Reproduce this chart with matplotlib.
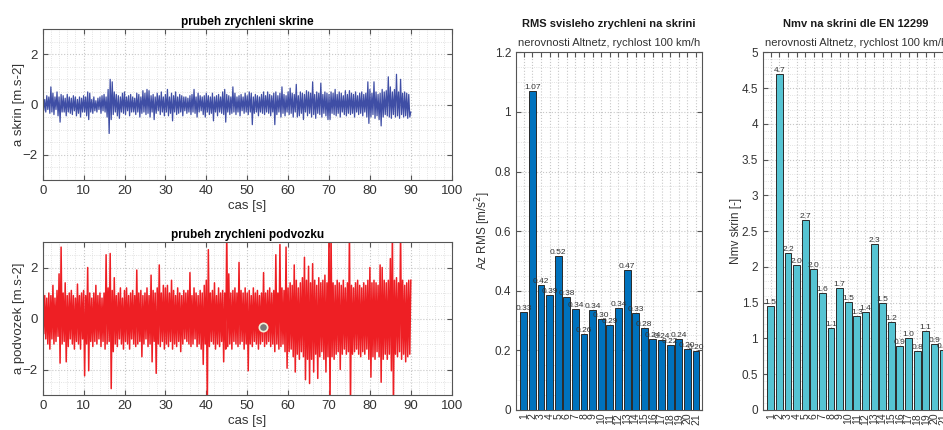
import numpy as np
import matplotlib
matplotlib.use("Agg")
import matplotlib.pyplot as plt
from matplotlib.ticker import MultipleLocator, FormatStrFormatter

plt.rcParams['font.family'] = ['Liberation Sans', 'DejaVu Sans']

# time axis of the two recordings (sampled every 0.25 s, 0..90 s)
cas = np.arange(0, 90.001, 0.25)

# body (skrin) acceleration, peaks [m/s2]
a_skrin = [
    0.15, -0.25, 0.2, -0.3, 0.35, -0.2, 0.3, -0.35, 0.7, -0.3, 0.45, -0.4, 0.3, -0.2, 0.5, -0.45, 0.3, -0.7, 0.4, -0.3,
    0.35, -0.3, 0.25, -0.45, 0.4, -0.3, 0.3, -0.35, 0.25, -0.4, 0.35, -0.25, 0.3, -0.45, 0.2, -0.35, 0.3, -0.5, 0.25, -0.3,
    0.35, -0.3, 0.3, -0.45, 0.5, -0.6, 0.45, -0.3, 0.2, -0.35, 0.3, -0.25, 0.15, -0.3, 0.25, -0.2, 0.3, -0.35, 0.35, -0.25,
    0.4, -0.3, 0.3, -0.5, 0.6, -1.15, 1.0, -0.6, 0.9, -0.4, 0.5, -0.3, 0.4, -0.45, 0.35, -0.55, 0.3, -0.3, 0.45, -0.35,
    0.5, -0.4, 0.3, -0.25, 0.35, -0.45, 0.4, -0.3, 0.3, -0.3, 0.25, -0.4, 0.45, -0.3, 0.4, -0.5, 0.3, -0.35, 0.55, -0.3,
    0.45, -0.4, 0.6, -0.35, 0.55, -0.5, 0.35, -0.3, 0.4, -0.6, 0.3, -0.35, 0.45, -0.25, 0.35, -0.4, 0.5, -0.3, 0.3, -0.45,
    0.4, -0.3, 0.6, -0.45, 0.3, -0.35, 0.45, -0.65, 0.35, -0.3, 0.5, -0.4, 0.3, -0.35, 0.4, -0.3, 0.35, -0.45, 0.3, -0.25,
    0.3, -0.35, 0.25, -0.3, 0.35, -0.4, 0.4, -0.3, 0.6, -0.35, 0.3, -0.5, 0.45, -0.3, 0.35, -0.25, 0.3, -0.4, 0.35, -0.5,
    0.45, -0.3, 0.35, -0.4, 0.3, -0.35, 0.45, -0.65, 0.3, -0.3, 0.35, -0.45, 0.4, -0.3, 0.3, -0.35, 0.5, -0.4, 0.6, -0.7,
    0.4, -0.3, 0.35, -0.4, 0.3, -0.35, 0.7, -0.3, 0.45, -0.4, 0.3, -0.3, 0.35, -0.45, 0.4, -0.25, 0.3, -0.35, 0.45, -0.3,
    0.35, -0.4, 0.5, -0.3, 0.45, -0.8, 0.3, -0.35, 0.4, -0.3, 0.35, -0.45, 0.3, -0.3, 0.4, -0.35, 0.5, -0.4, 0.35, -0.3,
    0.5, -0.35, 0.4, -0.45, 0.35, -0.3, 0.45, -0.8, 0.5, -0.4, 0.35, -0.3, 0.45, -0.5, 0.7, -0.35, 0.4, -0.45, 0.35, -0.3,
    0.5, -0.4, 0.65, -0.35, 0.45, -0.5, 0.4, -0.3, 0.8, -0.5, 0.35, -0.45, 0.5, -0.35, 0.45, -0.6, 0.4, -0.3, 0.55, -0.45,
    0.5, -0.35, 0.45, -0.5, 0.9, -0.4, 0.4, -0.55, 0.5, -0.35, 0.45, -0.4, 0.85, -0.5, 0.4, -0.35, 0.5, -0.45, 0.45, -0.6,
    0.4, -0.6, 0.5, -0.35, 0.45, -0.4, 0.6, -0.45, 0.4, -0.35, 0.5, -0.5, 0.45, -0.3, 0.35, -0.4, 0.55, -0.45, 0.4, -0.35,
    0.55, -0.4, 0.45, -0.35, 0.4, -0.5, 0.5, -0.3, 0.35, -0.4, 0.45, -0.35, 0.5, -0.45, 0.4, -0.3, 0.45, -0.5, 0.9, -0.75,
    0.6, -0.5, 0.45, -0.4, 0.9, -0.55, 0.5, -0.45, 0.4, -0.6, 0.45, -0.85, 0.6, -0.5, 0.5, -0.4, 0.55, -0.45, 1.1, -0.5,
    0.7, -0.55, 0.5, -0.4, 0.6, -0.5, 1.2, -0.45, 0.5, -0.55, 1.0, -0.4, 0.45, -0.5, 0.5, -0.45, 0.45, -0.55, 0.4, -0.5,
    -0.3]

# bogie (podvozek) acceleration [m/s2]
a_podvozek = [
    0.7, -0.6, 0.9, -0.8, 0.8, -1.0, 1.0, -1.2, 0.9, -0.8, 1.3, -1.0, 0.8, -0.9, 1.1, -0.7, 1.75, -1.75, 2.8, -1.0,
    1.0, -0.9, 1.4, -1.7, 0.9, -1.1, 1.0, -0.8, 1.1, -1.0, 0.9, -1.2, 0.8, -0.9, 1.35, -1.0, 0.9, -1.2, 1.0, -0.8,
    1.1, -2.25, 0.9, -1.0, 2.0, -2.05, 1.0, -0.9, 0.8, -1.1, 1.0, -0.9, 1.3, -1.0, 0.9, -0.8, 1.0, -1.1, 0.8, -0.9,
    1.0, -1.2, 2.5, -1.0, 1.2, -0.9, 2.55, -2.75, 1.1, -1.3, 1.6, -1.0, 0.9, -1.1, 1.0, -0.8, 1.2, -1.0, 0.8, -1.2,
    1.1, -0.9, 1.2, -1.0, 0.9, -1.2, 1.0, -0.8, 1.1, -1.0, 0.9, -1.1, 1.9, -1.0, 1.0, -0.9, 1.1, -1.5, 0.9, -1.0,
    1.0, -0.8, 1.2, -1.1, 0.9, -1.0, 1.7, -1.7, 1.1, -0.9, 1.0, -2.15, 1.2, -1.0, 2.1, -1.1, 1.0, -0.9, 1.3, -1.2,
    1.2, -1.0, 1.3, -1.1, 1.0, -0.9, 1.5, -1.2, 1.1, -1.0, 0.9, -1.1, 1.2, -0.9, 1.0, -1.3, 0.9, -1.0, 1.1, -0.8,
    1.0, -0.9, 1.1, -1.0, 1.8, -1.1, 0.9, -1.0, 1.2, -0.8, 1.0, -1.1, 0.9, -1.0, 1.1, -1.2, 1.0, -1.8, 1.3, -1.0,
    1.5, -3.5, 2.7, -1.1, 1.0, -0.9, 1.1, -1.0, 1.4, -1.2, 0.9, -1.0, 1.2, -1.1, 1.0, -0.9, 1.1, -1.7, 1.0, -1.2,
    3.5, -1.1, 1.75, -1.0, 1.0, -1.2, 1.1, -0.9, 1.2, -1.0, 1.0, -1.1, 2.2, -1.0, 1.1, -0.9, 1.0, -1.2, 1.2, -1.0,
    1.0, -2.05, 1.1, -1.0, 0.9, -1.1, 1.2, -0.9, 1.0, -1.0, 1.1, -1.2, 0.9, -1.0, 1.0, -0.9, 1.8, -1.1, 1.0, -1.0,
    1.1, -0.9, 1.2, -1.1, 1.0, -1.0, 1.1, -1.3, 2.5, -1.0, 1.0, -1.2, 2.9, -1.1, 1.2, -1.0, 1.1, -1.3, 2.8, -1.95,
    1.2, -1.3, 1.4, -1.2, 1.3, -1.5, 2.1, -2.1, 1.5, -1.4, 1.2, -1.6, 1.4, -1.3, 1.6, -1.5, 2.4, -2.4, 1.5, -1.6,
    2.05, -2.55, 1.4, -1.6, 2.15, -2.1, 1.5, -1.4, 1.3, -2.35, 1.6, -1.5, 1.4, -1.3, 1.5, -1.6, 1.7, -2.1, 1.4, -1.5,
    3.5, -3.5, 3.5, -1.5, 1.4, -1.6, 1.3, -1.4, 1.5, -1.3, 1.4, -2.0, 1.3, -1.4, 1.5, -1.2, 1.2, -1.4, 1.4, -1.3,
    3.5, -3.5, 1.3, -1.4, 1.2, -1.3, 1.4, -1.2, 1.5, -1.4, 1.3, -1.5, 1.2, -1.3, 1.4, -1.4, 1.3, -1.2, 1.5, -1.6,
    2.0, -2.3, 1.4, -1.5, 1.5, -1.6, 1.4, -1.3, 1.3, -1.5, 2.1, -2.5, 2.0, -1.6, 1.5, -1.4, 1.4, -1.6, 1.5, -1.4,
    2.35, -2.05, 3.5, -3.5, 1.5, -1.4, 1.6, -1.5, 1.4, -1.3, 3.5, -1.6, 1.5, -1.4, 1.3, -1.7, 1.4, -1.5, 1.5, -1.4,
    1.5]

# data tip on the bogie plot
tip_t, tip_a = 53.8, -0.35

# per-section results
useky = list(range(1, 22))
rms_skrin = [0.33, 1.07, 0.42, 0.386, 0.518, 0.378, 0.338, 0.255, 0.336, 0.305, 0.286,
             0.341, 0.470, 0.327, 0.275, 0.238, 0.236, 0.218, 0.237, 0.204, 0.198]
nmv_skrin = [1.46, 4.70, 2.20, 2.02, 2.66, 1.97, 1.64, 1.14, 1.70, 1.51, 1.31,
             1.37, 2.32, 1.49, 1.23, 0.90, 1.01, 0.83, 1.10, 0.92, 0.84]

W, H = 943, 430
fig = plt.figure(figsize=(W / 100, H / 100), dpi=100)

def pos(x0, y0, x1, y1):
    return [x0 / W, 1 - y1 / H, (x1 - x0) / W, (y1 - y0) / H]

def matlab_style(ax):
    for s in ax.spines.values():
        s.set_color('#555555')
        s.set_linewidth(0.8)
    ax.tick_params(which='both', direction='in', top=True, right=True,
                   colors='#555555', labelcolor='#333333')
    ax.tick_params(which='minor', length=0)
    ax.tick_params(which='major', length=3.5)
    ax.grid(which='major', color='#c8c8c8', linestyle=':', linewidth=0.8)
    ax.grid(which='minor', color='#dadada', linestyle=':', linewidth=0.6)
    ax.set_axisbelow(True)

def time_plot(ax, y, color, title, ylabel, lw):
    ax.plot(cas, y, color=color, linewidth=lw)
    ax.set_xlim(0, 100)
    ax.set_ylim(-3, 3)
    ax.set_xticks(range(0, 101, 10))
    ax.set_yticks([-2, 0, 2])
    ax.xaxis.set_minor_locator(MultipleLocator(2))
    ax.yaxis.set_minor_locator(MultipleLocator(0.5))
    matlab_style(ax)
    ax.tick_params(labelsize=9.5)
    ax.set_title(title, fontsize=8.5, fontweight='bold', pad=3)
    ax.set_ylabel(ylabel, fontsize=9.5, color='#333333')
    ax.yaxis.set_label_coords(-18 / 409, 0.5)
    ax.set_xlabel('cas [s]', fontsize=9.5, color='#333333', labelpad=2)

ax1 = fig.add_axes(pos(42.7, 29, 451.7, 180))
time_plot(ax1, a_skrin, '#3f4ea5', 'prubeh zrychleni skrine', 'a skrin [m.s-2]', 0.9)

ax2 = fig.add_axes(pos(42.7, 242, 451.7, 395))
time_plot(ax2, a_podvozek, '#ee1f24', 'prubeh zrychleni podvozku', 'a podvozek [m.s-2]', 1.1)
ax2.plot([tip_t], [tip_a], 'o', markersize=6, markerfacecolor='#7a7a7a',
         markeredgecolor='#f0f0d8', markeredgewidth=1.2, zorder=5)

def bar_plot(ax, vals, color, fmt, title, ylabel, ymax, ystep, yminor, ylx):
    ax.bar(useky, vals, width=0.8, color=color, edgecolor='#2a2a2a', linewidth=0.7, zorder=3)
    for i, v in zip(useky, vals):
        ax.text(i, v, fmt % v, ha='center', va='bottom', fontsize=6, color='#333333', zorder=4)
    ax.set_xlim(0.1, 21.7)
    ax.set_ylim(0, ymax)
    ax.set_xticks(useky)
    ax.set_xticklabels([str(u) for u in useky], rotation=90)
    ax.set_yticks(np.arange(0, ymax + 1e-9, ystep))
    ax.yaxis.set_major_formatter(FormatStrFormatter('%g'))
    ax.yaxis.set_minor_locator(MultipleLocator(yminor))
    matlab_style(ax)
    ax.tick_params(axis='x', labelsize=7.5, pad=2)
    ax.tick_params(axis='y', labelsize=8.5)
    ax.text(0.5, 1.0 + 28 / 358, title, transform=ax.transAxes, ha='center', va='center',
            fontsize=8, fontweight='bold', color='#1a1a1a')
    ax.text(0.5, 1.0 + 9 / 358, 'nerovnosti Altnetz, rychlost 100 km/h', transform=ax.transAxes,
            ha='center', va='center', fontsize=8, color='#333333')
    ax.set_ylabel(ylabel, fontsize=8.5, color='#333333')
    ax.yaxis.set_label_coords(ylx / 186, 0.5)

ax3 = fig.add_axes(pos(516, 52.3, 702, 410))
bar_plot(ax3, rms_skrin, '#0072bd', '%.2f', 'RMS svisleho zrychleni na skrini',
         'Az RMS [m/s$^2$]', 1.2, 0.2, 0.05, -23)

ax4 = fig.add_axes(pos(763, 52.3, 949, 410))
bar_plot(ax4, nmv_skrin, '#56c4d3', '%.1f', 'Nmv na skrini dle EN 12299',
         'Nmv skrin [-]', 5, 0.5, 0.1, -21)

fig.savefig('out.png', dpi=100)
